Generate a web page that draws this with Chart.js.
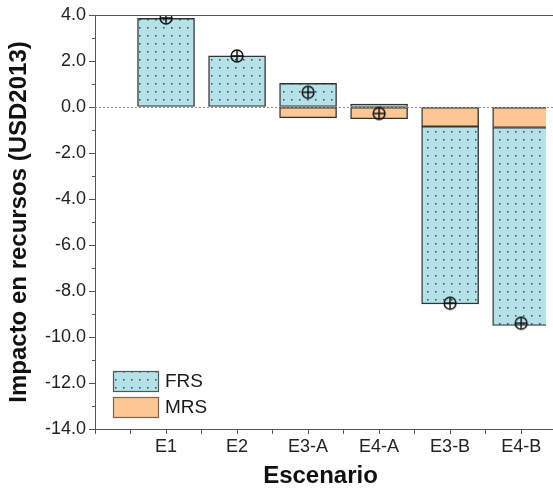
<!DOCTYPE html>
<html>
<head>
<meta charset="utf-8">
<script src="https://cdn.jsdelivr.net/npm/chart.js@4.4.0/dist/chart.umd.min.js"></script>
<style>
html, body { margin: 0; padding: 0; background: #fff; }
</style>
</head>
<body>
<canvas id="mycanvas" width="553" height="493"></canvas>
<script>
// datos
var escenarios = ['E1', 'E2', 'E3-A', 'E4-A', 'E3-B', 'E4-B'];
var frs = [3.85, 2.22, 1.03, 0.13, -7.71, -8.61];
var mrs = [0, 0, -0.47, -0.51, -0.85, -0.89];
var neto = [3.87, 2.22, 0.64, -0.28, -8.53, -9.40];
var yMin = -14, yMax = 4, yStep = 2;

var fuente = 'Arial, "Liberation Sans", sans-serif';
var azul = '#b5e2e8';
var naranja = '#fdc794';
var borde = '#333';

// patron de puntos para FRS
var pc = document.createElement('canvas');
pc.width = 8; pc.height = 8;
var p = pc.getContext('2d');
p.fillStyle = azul;
p.fillRect(0, 0, 8, 8);
p.fillStyle = '#7da5ab';
p.fillRect(3, 3, 2, 2);
p.fillStyle = '#264850';
p.fillRect(3, 3, 1, 1);

var ctx = document.getElementById('mycanvas').getContext('2d');
var patron = ctx.createPattern(pc, 'repeat');

// marcador circulo con cruz
var mk = document.createElement('canvas');
mk.width = 16; mk.height = 16;
var m = mk.getContext('2d');
m.strokeStyle = '#111';
m.lineWidth = 1.5;
m.beginPath(); m.arc(8, 8, 5.9, 0, 2 * Math.PI); m.stroke();
m.beginPath();
m.moveTo(8, 2); m.lineTo(8, 14);
m.moveTo(2, 8); m.lineTo(14, 8);
m.stroke();

function puntos(arr) {
	var out = [];
	for (var i in arr) {
		out.push({x: Number(i) + 1, y: arr[i]});
	}
	return out;
}

var extras = {
	id: 'extras',
	beforeDatasetsDraw: function(chart) {
		var c = chart.ctx, a = chart.chartArea;
		var y0 = Math.round(chart.scales.y.getPixelForValue(0)) + 0.5;
		c.save();
		c.strokeStyle = '#8a8a8a';
		c.lineWidth = 1;
		c.setLineDash([2, 2]);
		c.beginPath(); c.moveTo(a.left, y0); c.lineTo(chart.width, y0); c.stroke();
		c.restore();
	},
	afterDraw: function(chart) {
		var c = chart.ctx, a = chart.chartArea, ys = chart.scales.y;
		c.save();
		// linea superior del marco
		c.strokeStyle = '#555';
		c.lineWidth = 1;
		c.beginPath(); c.moveTo(a.left, Math.round(a.top) + 0.5); c.lineTo(chart.width, Math.round(a.top) + 0.5); c.stroke();
		// eje x hasta el borde
		var yb = Math.round(a.bottom) + 0.5;
		c.beginPath(); c.moveTo(a.right, yb); c.lineTo(chart.width, yb); c.stroke();
		// ticks menores en y
		for (var v = yMin + 1; v < yMax; v += yStep) {
			var py = Math.round(ys.getPixelForValue(v)) + 0.5;
			c.beginPath(); c.moveTo(a.left - 3, py); c.lineTo(a.left, py); c.stroke();
		}
		// leyenda
		var items = [
			{label: 'FRS', fill: patron, line: '#4a5a5c'},
			{label: 'MRS', fill: naranja, line: '#7a6450'}
		];
		var bx = a.left + 18, bw = 45, bh = 20;
		var by = a.bottom - 12 - bh - 6 - bh;
		c.font = '19px ' + fuente;
		c.textBaseline = 'middle';
		for (var i = 0; i < items.length; i++) {
			var top = by + i * (bh + 6);
			c.fillStyle = items[i].fill;
			c.fillRect(bx, top, bw, bh);
			c.strokeStyle = items[i].line;
			c.lineWidth = 1.2;
			c.strokeRect(bx + 0.5, top + 0.5, bw, bh);
			c.fillStyle = '#1a1a1a';
			c.fillText(items[i].label, bx + bw + 7, top + bh / 2 + 1);
		}
		c.restore();
	}
};

var chart = new Chart(ctx, {
	type: 'bar',
	data: {
		datasets: [
			{
				type: 'scatter',
				label: 'Neto',
				data: puntos(neto),
				pointStyle: mk,
				pointRadius: 6,
				order: 0
			},
			{
				label: 'MRS',
				data: puntos(mrs),
				backgroundColor: naranja,
				borderColor: borde,
				borderWidth: 1.4,
				borderSkipped: false,
				barThickness: 57,
				order: 1
			},
			{
				label: 'FRS',
				data: puntos(frs),
				backgroundColor: patron,
				borderColor: borde,
				borderWidth: 1.4,
				borderSkipped: false,
				barThickness: 57,
				order: 2
			}
		]
	},
	options: {
		responsive: false,
		animation: false,
		devicePixelRatio: 1,
		layout: { padding: { top: 15, right: 0, bottom: 0, left: 0 } },
		plugins: {
			legend: { display: false },
			tooltip: { enabled: false }
		},
		scales: {
			x: {
				type: 'linear',
				min: 0,
				max: 6.35,
				offset: false,
				stacked: true,
				afterFit: function(s) { s.height = 64; },
				grid: { drawOnChartArea: false, offset: false, tickLength: 5, tickColor: '#555' },
				border: { color: '#555', width: 1 },
				ticks: {
					stepSize: 0.5,
					maxTicksLimit: 100,
					includeBounds: false,
					autoSkip: false,
					maxRotation: 0,
					padding: 2,
					color: '#222',
					font: { family: fuente, size: 18 },
					callback: function(v) {
						if (Number.isInteger(v) && v >= 1 && v <= escenarios.length) return escenarios[v - 1];
						return '';
					}
				},
				title: {
					display: true,
					text: 'Escenario',
					color: '#111',
					font: { family: fuente, size: 24, weight: 'bold' },
					padding: { top: 0, bottom: 2 }
				}
			},
			y: {
				min: yMin,
				max: yMax,
				stacked: true,
				afterFit: function(s) { s.width = 95; },
				grid: { drawOnChartArea: false, tickLength: 6, tickColor: '#555' },
				border: { color: '#555', width: 1 },
				ticks: {
					stepSize: yStep,
					padding: 3,
					color: '#222',
					font: { family: fuente, size: 18 },
					callback: function(v) { return v.toFixed(1); }
				},
				title: {
					display: true,
					text: 'Impacto en recursos (USD2013)',
					color: '#111',
					font: { family: fuente, size: 24, weight: 'bold' },
					padding: { top: 5, bottom: 0 }
				}
			}
		}
	},
	plugins: [extras]
});
</script>
</body>
</html>
